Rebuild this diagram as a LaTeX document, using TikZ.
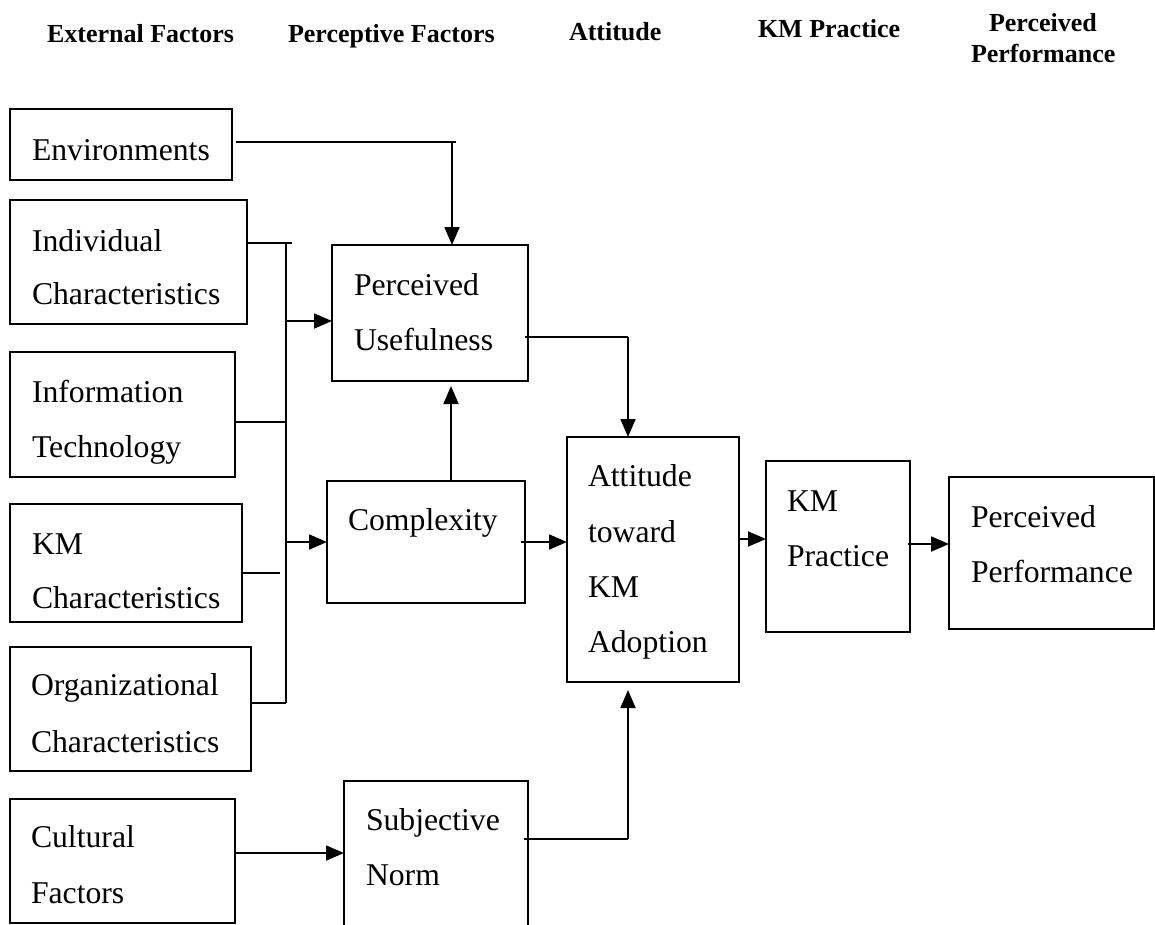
\documentclass[tikz,border=0pt]{standalone}
\usepackage{fontspec}
\setmainfont{Liberation Serif}
\usetikzlibrary{arrows.meta}
\begin{document}
\begin{tikzpicture}[x=1pt,y=-1pt,
  box/.style={draw, line width=1.8pt, inner sep=0pt, outer sep=0pt, rectangle},
  txt/.style={inner sep=0pt, outer sep=0pt, anchor=base west, font=\fontsize{31.7}{38}\selectfont},
  hd/.style={inner sep=0pt, outer sep=0pt, anchor=base west, font=\fontsize{26}{31}\selectfont\bfseries},
  ln/.style={line width=1.8pt},
  arr/.style={line width=1.8pt, -{Triangle[length=18pt,width=15pt]}}]
\fill[white] (0,0) rectangle (1155,924);
\useasboundingbox (0,0) rectangle (1155,924);

% headings
\node[hd] (h1) at (47,42) {External Factors};
\node[hd] (h2) at (288,42) {Perceptive Factors};
\node[hd] (h3) at (569,40) {Attitude};
\node[hd] (h4) at (758,37) {KM Practice};
\node[hd] (h5) at (989,31) {Perceived};
\node[hd] (h6) at (971,62) {Performance};

% boxes
\node[box, minimum width=222, minimum height=71]  (env)  at (121,144.5) {};
\node[box, minimum width=237, minimum height=124] (ind)  at (128.5,262) {};
\node[box, minimum width=225, minimum height=125] (info) at (122.5,414.5) {};
\node[box, minimum width=232, minimum height=118] (kmc)  at (126,563) {};
\node[box, minimum width=241, minimum height=124] (org)  at (130.5,709) {};
\node[box, minimum width=225, minimum height=124] (cul)  at (122.5,861) {};
\node[box, minimum width=196, minimum height=136] (pu)   at (430,313) {};
\node[box, minimum width=198, minimum height=122] (cx)   at (426,542) {};
\node[box, minimum width=184, minimum height=159] (sn)   at (436,860.5) {};
\node[box, minimum width=172, minimum height=245] (att)  at (653,559.5) {};
\node[box, minimum width=144, minimum height=171] (kmp)  at (838,546.5) {};
\node[box, minimum width=205, minimum height=152] (pp)   at (1051.5,553) {};

% texts
\node[txt] (t1)  at (32,160) {Environments};
\node[txt] (t2a) at (32,251) {Individual};
\node[txt] (t2b) at (32,304) {Characteristics};
\node[txt] (t3a) at (32,402) {Information};
\node[txt] (t3b) at (32,457) {Technology};
\node[txt] (t4a) at (32,554) {KM};
\node[txt] (t4b) at (32,608) {Characteristics};
\node[txt] (t5a) at (31,695) {Organizational};
\node[txt] (t5b) at (31,752) {Characteristics};
\node[txt] (t6a) at (31,847) {Cultural};
\node[txt] (t6b) at (31,903) {Factors};
\node[txt] (t7a) at (354,295) {Perceived};
\node[txt] (t7b) at (354,350) {Usefulness};
\node[txt] (t8)  at (348,530) {Complexity};
\node[txt] (t9a) at (366,830) {Subjective};
\node[txt] (t9b) at (366,885) {Norm};
\node[txt] (tAa) at (588,486) {Attitude};
\node[txt] (tAb) at (588,542) {toward};
\node[txt] (tAc) at (588,597) {KM};
\node[txt] (tAd) at (588,652) {Adoption};
\node[txt] (tBa) at (787,511) {KM};
\node[txt] (tBb) at (787,566) {Practice};
\node[txt] (tCa) at (971,527) {Perceived};
\node[txt] (tCb) at (971,582) {Performance};

% helper coordinates
\coordinate (envJ) at (452,142);
\coordinate (bt) at (286,243);
\coordinate (bb) at (286,703);
\coordinate (yInfo) at (0,422);
\coordinate (yKmc) at (0,573);
\coordinate (yPu) at (0,321);
\coordinate (xc) at (451,0);
\coordinate (pa) at (628,337);
\coordinate (yAK) at (0,539);
\coordinate (yKP) at (0,544);
\coordinate (yC) at (0,853);
\coordinate (sa) at (628,839);

% connectors
\draw[ln] ([xshift=4]env.east |- envJ) -- ([xshift=4]envJ);
\draw[arr] (envJ) -- (envJ |- pu.north);

\draw[ln] (ind.east |- bt) -- ([xshift=6]bt);
\draw[ln] (bt) -- (bb);
\draw[ln] (info.east |- yInfo) -- (bt |- yInfo);
\draw[ln] (kmc.east |- yKmc) -- ([xshift=-6]bt |- yKmc);
\draw[ln] (org.east |- bb) -- (bb);
\draw[arr] (bt |- yPu) -- (pu.west |- yPu);
\draw[arr] (bt |- cx.west) -- (cx.west);

\draw[arr, shorten >=5pt] (cx.north -| xc) -- (pu.south -| xc);

\draw[ln] ([xshift=-3]pu.east |- pa) -- (pa);
\draw[arr] (pa) -- (pa |- att.north);

\draw[arr] ([xshift=-4]cx.east) -- (att.west |- cx.east);
\draw[arr] (att.east |- yAK) -- (kmp.west |- yAK);
\draw[arr] ([xshift=-2]kmp.east |- yKP) -- (pp.west |- yKP);
\draw[arr] (cul.east |- yC) -- (sn.west |- yC);

\draw[ln] ([xshift=-4]sn.east |- sa) -- (sa);
\draw[arr, shorten >=8pt] (sa) -- (sa |- att.south);
\end{tikzpicture}
\end{document}
